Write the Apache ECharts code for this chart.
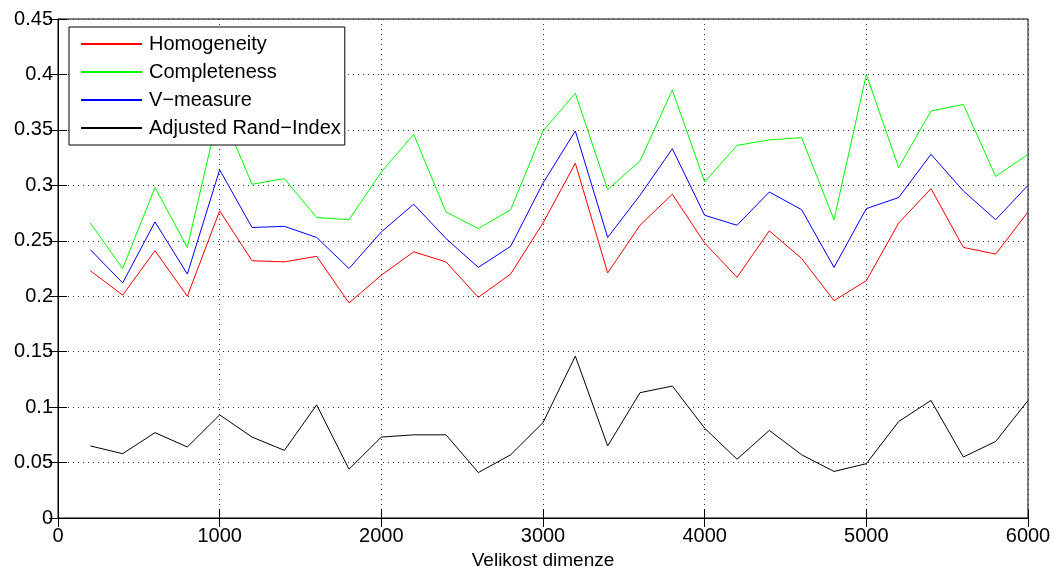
<!DOCTYPE html>
<html>
<head>
<meta charset="utf-8">
<script src="https://cdn.jsdelivr.net/npm/echarts@6/dist/echarts.min.js"></script>
<style>
  html, body { margin: 0; padding: 0; background: #fff; }
  #chart { width: 1053px; height: 567px; }
</style>
</head>
<body>
<div id="chart"></div>
<script>
// Dimension sizes (x values)
const dims = [200, 400, 600, 800, 1000, 1200, 1400, 1600, 1800, 2000,
              2200, 2400, 2600, 2800, 3000, 3200, 3400, 3600, 3800, 4000,
              4200, 4400, 4600, 4800, 5000, 5200, 5400, 5600, 5800, 6000];

const homogeneity = [0.223, 0.201, 0.241, 0.200, 0.277, 0.232, 0.231, 0.236, 0.194, 0.219,
                     0.240, 0.231, 0.199, 0.220, 0.266, 0.320, 0.221, 0.264, 0.292, 0.248,
                     0.217, 0.259, 0.234, 0.196, 0.214, 0.266, 0.297, 0.244, 0.238, 0.276];

const completeness = [0.266, 0.225, 0.298, 0.244, 0.370, 0.301, 0.306, 0.271, 0.269, 0.312,
                      0.346, 0.276, 0.261, 0.278, 0.349, 0.383, 0.296, 0.322, 0.386, 0.303,
                      0.336, 0.341, 0.343, 0.269, 0.400, 0.316, 0.367, 0.373, 0.308, 0.328];

const vMeasure = [0.242, 0.212, 0.267, 0.220, 0.314, 0.262, 0.263, 0.253, 0.225, 0.258,
                  0.283, 0.252, 0.226, 0.245, 0.302, 0.349, 0.253, 0.291, 0.333, 0.273,
                  0.264, 0.294, 0.278, 0.226, 0.279, 0.289, 0.328, 0.295, 0.269, 0.300];

const adjustedRand = [0.065, 0.058, 0.077, 0.064, 0.093, 0.073, 0.061, 0.102, 0.044, 0.073,
                      0.075, 0.075, 0.041, 0.057, 0.086, 0.146, 0.065, 0.113, 0.119, 0.081,
                      0.053, 0.079, 0.057, 0.042, 0.049, 0.087, 0.106, 0.055, 0.069, 0.106];

const seriesNames = ['Homogeneity', 'Completeness', 'V\u2212measure', 'Adjusted Rand\u2212Index'];
const seriesColors = ['#ff0000', '#00ff00', '#0000ff', '#000000'];
const seriesValues = [homogeneity, completeness, vMeasure, adjustedRand];

const xTicks = [0, 1000, 2000, 3000, 4000, 5000, 6000];
const yTicks = [0, 0.05, 0.1, 0.15, 0.2, 0.25, 0.3, 0.35, 0.4, 0.45];
const xTitle = 'Velikost dimenze';

const FONT = '"Liberation Sans", Arial, Helvetica, sans-serif';
const FS = 20;
const gridLine = { show: true, lineStyle: { color: '#333', width: 1, type: [1, 4] } };

const chart = echarts.init(document.getElementById('chart'), null, { renderer: 'canvas' });

const option = {
  animation: false,
  backgroundColor: '#ffffff',
  textStyle: { fontFamily: FONT },
  grid: {
    left: 58, right: 25, top: 19, bottom: 49,
    outerBoundsMode: 'none',
    containLabel: false,
    show: true, borderColor: '#000', borderWidth: 1, backgroundColor: 'transparent'
  },
  legend: {
    orient: 'vertical',
    left: 69, top: 27,
    padding: [7, 4, 7, 12],
    itemGap: 8,
    itemWidth: 61, itemHeight: 2,
    icon: 'rect',
    backgroundColor: '#fff',
    borderColor: '#000', borderWidth: 1, borderRadius: 0,
    textStyle: { fontFamily: FONT, fontSize: FS, color: '#000', padding: [0, 0, 0, 2], lineHeight: 20 },
    data: seriesNames
  },
  xAxis: [
    {
      type: 'value', min: xTicks[0], max: xTicks[xTicks.length - 1], interval: 1000,
      position: 'bottom',
      axisLine: { show: true, lineStyle: { color: '#000', width: 1 } },
      axisTick: { show: true, inside: true, length: 9, lineStyle: { color: '#000' } },
      axisLabel: {
        color: '#000', fontSize: FS, fontFamily: FONT, margin: 8,
        formatter: function (v) { return String(v); }
      },
      splitLine: gridLine,
      name: xTitle, nameLocation: 'middle', nameGap: 28,
      nameTextStyle: { color: '#000', fontSize: 19, fontFamily: FONT }
    },
    {
      type: 'value', min: xTicks[0], max: xTicks[xTicks.length - 1], interval: 1000,
      position: 'top',
      axisLine: { show: true, lineStyle: { color: '#000', width: 1 } },
      axisTick: { show: true, inside: true, length: 9, lineStyle: { color: '#000' } },
      axisLabel: { show: false },
      splitLine: { show: false }
    }
  ],
  yAxis: [
    {
      type: 'value', min: yTicks[0], max: yTicks[yTicks.length - 1], interval: 0.05,
      position: 'left',
      axisLine: { show: true, lineStyle: { color: '#000', width: 1 } },
      axisTick: { show: true, inside: true, length: 9, lineStyle: { color: '#000' } },
      axisLabel: {
        color: '#000', fontSize: FS, fontFamily: FONT, margin: 5,
        formatter: function (v) { return String(Math.round(v * 100) / 100); }
      },
      splitLine: gridLine
    },
    {
      type: 'value', min: yTicks[0], max: yTicks[yTicks.length - 1], interval: 0.05,
      position: 'right',
      axisLine: { show: true, lineStyle: { color: '#000', width: 1 } },
      axisTick: { show: true, inside: true, length: 9, lineStyle: { color: '#000' } },
      axisLabel: { show: false },
      splitLine: { show: false }
    }
  ],
  series: seriesNames.map(function (name, i) {
    return {
      name: name,
      type: 'line',
      xAxisIndex: 0, yAxisIndex: 0,
      data: dims.map(function (d, j) { return [d, seriesValues[i][j]]; }),
      showSymbol: false,
      symbol: 'none',
      color: seriesColors[i],
      lineStyle: { color: seriesColors[i], width: 1 },
      z: 2
    };
  })
};

chart.setOption(option);
</script>
</body>
</html>
